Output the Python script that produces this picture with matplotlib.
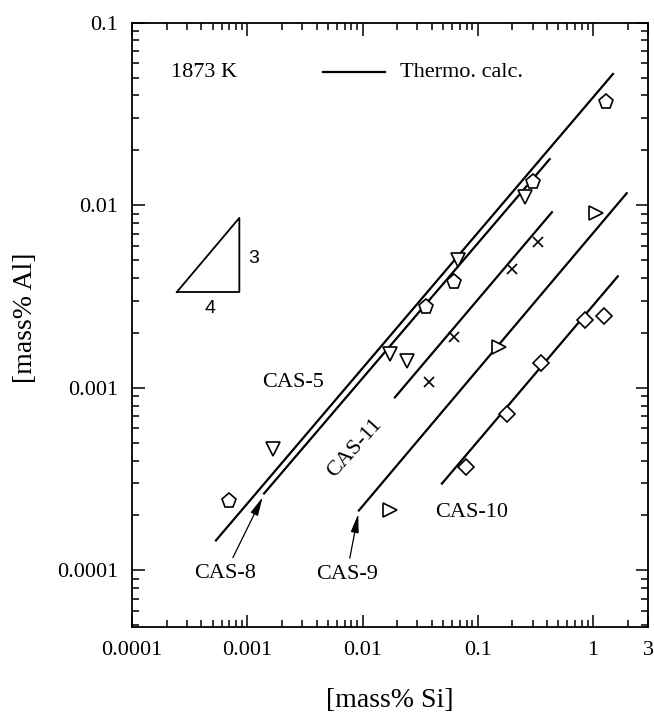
import matplotlib
matplotlib.use("Agg")
import matplotlib.pyplot as plt
from matplotlib.ticker import FixedLocator, FixedFormatter, LogLocator, NullFormatter

plt.rcParams["font.family"] = ["Liberation Serif", "DejaVu Serif"]
plt.rcParams["mathtext.fontset"] = "stix"

# measured points, [mass% Si] vs [mass% Al]
cas5_si = [0.000698, 0.0355, 0.0621, 0.303, 1.29]
cas5_al = [0.000239, 0.00277, 0.0038, 0.01343, 0.0366]
cas8_si = [0.00166, 0.0173, 0.0241, 0.0676, 0.257]
cas8_al = [0.000465, 0.00154, 0.0014, 0.0050, 0.0111]
cas11_si = [0.0377, 0.0624, 0.199, 0.33]
cas11_al = [0.00108, 0.00191, 0.0045, 0.0063]
cas9_si = [0.0173, 0.153, 1.07]
cas9_al = [0.000213, 0.00167, 0.00902]
cas10_si = [0.0789, 0.178, 0.352, 0.85, 1.24]
cas10_al = [0.000368, 0.000723, 0.00137, 0.00234, 0.00247]

# thermodynamic calculation lines (end points)
calc_si = {
    "CAS-5": [0.000535, 1.49],
    "CAS-8": [0.00140, 0.421],
    "CAS-11": [0.0191, 0.44],
    "CAS-9": [0.0093, 1.96],
    "CAS-10": [0.0489, 1.64],
}
calc_al = {
    "CAS-5": [0.000146, 0.0524],
    "CAS-8": [0.000264, 0.0179],
    "CAS-11": [0.000887, 0.00916],
    "CAS-9": [0.000213, 0.01164],
    "CAS-10": [0.000299, 0.00408],
}

x_ticks = [1e-4, 1e-3, 1e-2, 1e-1, 1, 3]
x_tick_labels = ["0.0001", "0.001", "0.01", "0.1", "1", "3"]
y_ticks = [1e-4, 1e-3, 1e-2, 1e-1]
y_tick_labels = ["0.0001", "0.001", "0.01", "0.1"]

W, H = 654, 717
fig = plt.figure(figsize=(W / 100, H / 100), dpi=100)
ax = fig.add_axes([132 / W, 1 - 627 / H, 516 / W, (627 - 22.7) / H])
ax.set_xscale("log")
ax.set_yscale("log")
ax.set_xlim(1e-4, 3)
ax.set_ylim(4.9e-5, 0.1)

for name in calc_si:
    ax.plot(calc_si[name], calc_al[name], color="black", lw=1.6, zorder=2)

mk = dict(mfc="white", mec="black", mew=1.2, ls="none", zorder=3)
ax.plot(cas5_si, cas5_al, marker="p", ms=11, **mk)
ax.plot(cas8_si, cas8_al, marker="v", ms=10, **mk)
ax.plot(cas11_si, cas11_al, marker="x", ms=7, **mk)
ax.plot(cas9_si, cas9_al, marker=">", ms=10, **mk)
ax.plot(cas10_si, cas10_al, marker="D", ms=8, **mk)

# ticks
ax.xaxis.set_major_locator(FixedLocator(x_ticks))
ax.xaxis.set_major_formatter(FixedFormatter(x_tick_labels))
ax.xaxis.set_minor_locator(LogLocator(base=10, subs=range(2, 10)))
ax.xaxis.set_minor_formatter(NullFormatter())
ax.yaxis.set_major_locator(FixedLocator(y_ticks))
ax.yaxis.set_major_formatter(FixedFormatter(y_tick_labels))
ax.yaxis.set_minor_locator(LogLocator(base=10, subs=range(2, 10)))
ax.yaxis.set_minor_formatter(NullFormatter())
ax.tick_params(which="both", direction="in", top=True, right=True,
               width=1.1, labelsize=16, pad=10)
ax.tick_params(which="major", length=9)
ax.tick_params(which="minor", length=5)
for sp in ax.spines.values():
    sp.set_linewidth(1.3)

ax.set_xlabel("[mass% Si]", fontsize=20)
ax.xaxis.set_label_coords(0.5, -0.101)
ax.set_ylabel("[mass% Al]", fontsize=20)
ax.yaxis.set_label_coords(-0.182, 0.511)

# header text and key
ax.text(0.075, 0.918, "1873 K", transform=ax.transAxes, fontsize=16,
        ha="left", va="center")
ax.plot([0.370, 0.490], [0.918, 0.918], color="black", lw=1.6,
        transform=ax.transAxes)
ax.text(0.519, 0.918, "Thermo. calc.", transform=ax.transAxes, fontsize=16,
        ha="left", va="center")

# slope triangle 3/4
ax.plot([2.45e-4, 8.54e-4, 8.54e-4, 2.45e-4], [3.35e-3, 3.35e-3, 8.53e-3, 3.35e-3],
        color="black", lw=1.3)
ax.text(1.14e-3, 5.13e-3, "3", fontsize=14, family="Liberation Sans",
        ha="center", va="center")
ax.text(4.74e-4, 2.73e-3, "4", fontsize=14, family="Liberation Sans",
        ha="center", va="center")

# line labels
ax.text(2.49e-3, 1.07e-3, "CAS-5", fontsize=16, ha="center", va="center")
ax.text(8.59e-3, 4.66e-4, "CAS-11", fontsize=16, ha="center", va="center",
        rotation=48)
ax.text(0.0883, 2.08e-4, "CAS-10", fontsize=16, ha="center", va="center")
arrow = dict(arrowstyle="-|>,head_length=0.7,head_width=0.15", color="black",
             lw=0.9, shrinkA=3, shrinkB=0)
ax.annotate("CAS-8", xy=(1.36e-3, 2.52e-4), xytext=(6.41e-4, 9.6e-5),
            fontsize=16, ha="center", va="center", arrowprops=arrow)
ax.annotate("CAS-9", xy=(9.19e-3, 2.04e-4), xytext=(7.28e-3, 9.5e-5),
            fontsize=16, ha="center", va="center", arrowprops=arrow)

fig.savefig("out.png", dpi=100)
